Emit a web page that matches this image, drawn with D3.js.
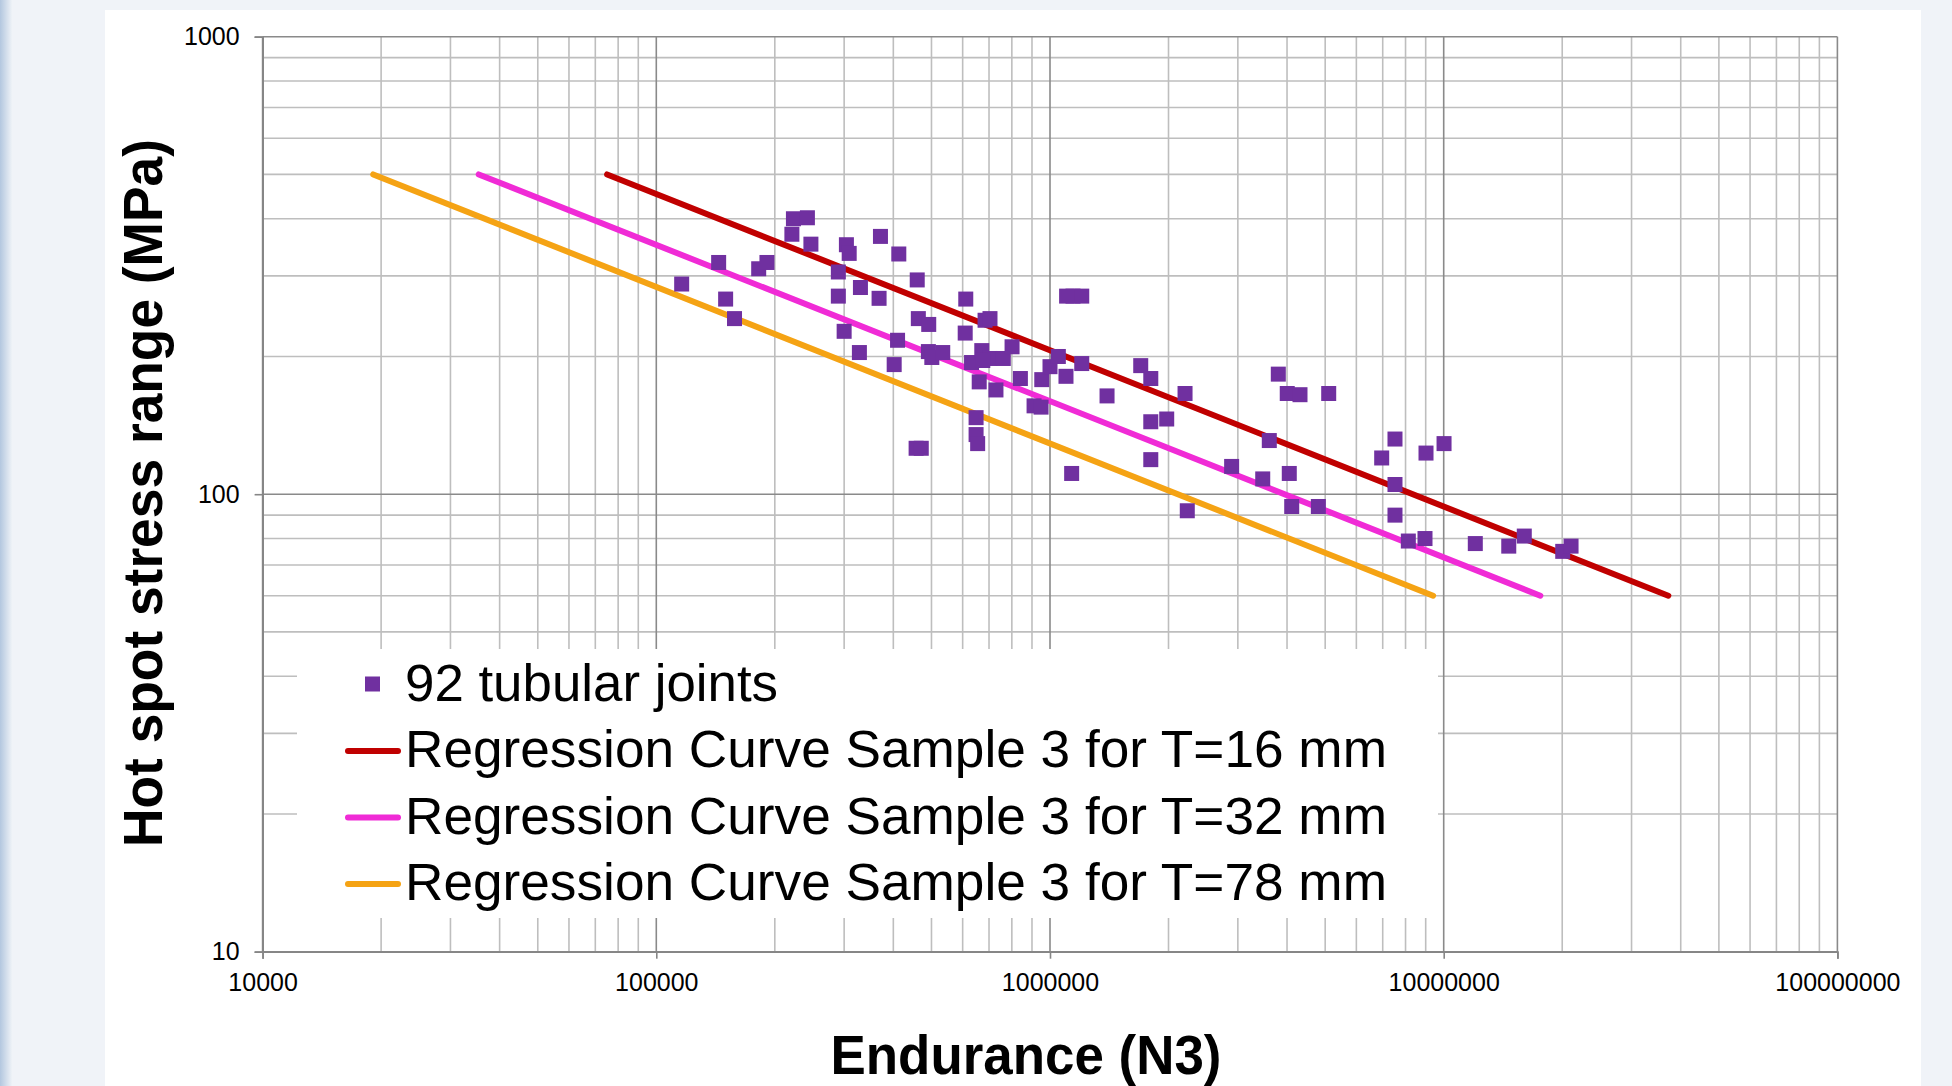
<!DOCTYPE html>
<html>
<head>
<meta charset="utf-8">
<script src="https://cdn.jsdelivr.net/npm/d3@7"></script>
<style>
  html, body { margin: 0; padding: 0; background: #f1f4f8; overflow: hidden; }
  svg { display: block; font-family: "Liberation Sans", Arial, sans-serif; }
</style>
</head>
<body>
<svg id="chart" width="1952" height="1086"></svg>
<script>
// test data: endurance N3 (cycles) and hot spot stress range (MPa)
const jointsN = [116000, 144000, 150000, 158000, 182000, 191000, 223000, 242000, 221000, 247000,
  304000, 309000, 290000, 290000, 330000, 368000, 371000, 413000, 460000, 300000,
  328000, 410000, 402000, 463000, 492000, 611000, 609000, 684000, 704000, 491000,
  501000, 534000, 632000, 671000, 704000, 761000, 801000, 661000, 729000, 841000,
  953000, 1000000, 1050000, 1098000, 1204000, 1102000, 1144000, 1204000, 1700000, 1803000,
  1396000, 2203000, 911000, 949000, 649000, 649000, 655000, 457000, 471000, 1803000,
  1979000, 1803000, 1135000, 2893000, 3470000, 4053000, 3606000, 4111000, 4804000, 2232000,
  3801000, 4005000, 4315000, 5104000, 7521000, 6958000, 9017000, 10020000, 7521000, 7521000,
  8131000, 8964000, 12030000, 14630000, 16020000, 20060000, 21060000, 675000]
const jointsS = [288, 321, 267, 242, 311, 321, 400, 402, 370, 352,
  351, 336, 306, 271, 283, 268, 366, 335, 294, 227,
  204, 217, 192, 242, 235, 267, 225, 240, 242, 205,
  199, 204, 194, 206, 198, 198, 210, 176, 169, 179,
  178, 190, 200, 181, 193, 271, 271, 271, 191, 179,
  164, 166, 156, 155, 147, 135, 129, 126, 126, 144,
  146, 119, 111, 115, 108, 111, 131, 94, 94, 92,
  183, 166, 165, 166, 132, 120, 123, 129, 105, 90,
  79, 80, 78, 77, 81, 75, 77, 196]

// regression curves: endpoints of each line
const curveNames = ["Regression Curve Sample 3 for T=16 mm",
  "Regression Curve Sample 3 for T=32 mm",
  "Regression Curve Sample 3 for T=78 mm"]
const curveStartN = [75000, 35400, 19100]
const curveEndN = [37200000, 17600000, 9400000]
const curveStartS = [500, 500, 500]
const curveEndS = [60, 60, 60]

const xTicks = [10000, 100000, 1000000, 10000000, 100000000]
const yTicks = [10, 100, 1000]
const pointsLabel = "92 tubular joints"

const curveColors = ["#c00000", "#f02bd6", "#f5a314"]
const markerColor = "#7030a0"

const svg = d3.select("#chart")

// slide background
const defs = svg.append("defs")
const edge = defs.append("linearGradient").attr("id", "edge")
edge.append("stop").attr("offset", "0%").attr("stop-color", "#b3c7df")
edge.append("stop").attr("offset", "100%").attr("stop-color", "#eef2f7")
svg.append("rect").attr("width", 1952).attr("height", 1086).attr("fill", "#f0f3f8")
svg.append("rect").attr("width", 12).attr("height", 1086).attr("fill", "url(#edge)")
svg.append("rect").attr("x", 105).attr("y", 10).attr("width", 1816).attr("height", 1076).attr("fill", "#ffffff")

const x = d3.scaleLog().domain([1e4, 1e8]).range([262.6, 1837.4])
const y = d3.scaleLog().domain([10, 1000]).range([951.7, 36.7])

function minorValues(lo, hi){
    const vals = []
    for(let d = lo; d < hi; d *= 10){
        for(let k = 2; k < 10; k++) vals.push(k*d)
    }
    return vals
}

const grid = svg.append("g").attr("class", "grid")
grid.selectAll(".vminor").data(minorValues(1e4, 1e8)).join("line")
    .attr("x1", d => x(d)).attr("x2", d => x(d))
    .attr("y1", y(1000)).attr("y2", y(10))
    .attr("stroke", "#bebebe").attr("stroke-width", 1.6)
grid.selectAll(".hminor").data(minorValues(10, 1000)).join("line")
    .attr("x1", x(1e4)).attr("x2", x(1e8))
    .attr("y1", d => y(d)).attr("y2", d => y(d))
    .attr("stroke", "#bebebe").attr("stroke-width", 1.6)
grid.selectAll(".vmajor").data(xTicks).join("line")
    .attr("x1", d => x(d)).attr("x2", d => x(d))
    .attr("y1", y(1000)).attr("y2", y(10))
    .attr("stroke", "#8a8a8a").attr("stroke-width", 1.6)
grid.selectAll(".hmajor").data(yTicks).join("line")
    .attr("x1", x(1e4)).attr("x2", x(1e8))
    .attr("y1", d => y(d)).attr("y2", d => y(d))
    .attr("stroke", "#8a8a8a").attr("stroke-width", 1.6)

// axes
const xAxis = svg.append("g")
    .attr("transform", `translate(0,${y(10)})`)
    .call(d3.axisBottom(x).tickValues(xTicks).tickFormat(d3.format("d")).tickSize(7).tickPadding(15))
const yAxis = svg.append("g")
    .attr("transform", `translate(${x(1e4)},0)`)
    .call(d3.axisLeft(y).tickValues(yTicks).tickFormat(d3.format("d")).tickSize(8).tickPadding(15))
for(const ax of [xAxis, yAxis]){
    ax.select(".domain").attr("stroke", "#868686").attr("stroke-width", 1.8)
    ax.selectAll(".tick line").attr("stroke", "#868686").attr("stroke-width", 1.6)
    ax.selectAll(".tick text").attr("fill", "#000").style("font-size", "25px")
        .style("font-family", "'Liberation Sans', Arial, sans-serif")
}

// legend box sits over the grid
svg.append("rect").attr("x", 297).attr("y", 649).attr("width", 1141).attr("height", 269).attr("fill", "#ffffff")

// regression lines
const curves = curveNames.map((name, i) => ({
    name: name,
    color: curveColors[i],
    pts: [[curveStartN[i], curveStartS[i]], [curveEndN[i], curveEndS[i]]]
}))
const line = d3.line().x(d => x(d[0])).y(d => y(d[1]))
svg.append("g").selectAll("path").data(curves).join("path")
    .attr("d", d => line(d.pts))
    .attr("fill", "none")
    .attr("stroke", d => d.color)
    .attr("stroke-width", 6)
    .attr("stroke-linecap", "round")

// joints
const size = 15
svg.append("g").selectAll("rect").data(d3.zip(jointsN, jointsS)).join("rect")
    .attr("x", d => x(d[0]) - size/2)
    .attr("y", d => y(d[1]) - size/2)
    .attr("width", size).attr("height", size)
    .attr("fill", markerColor)

// legend
const legend = svg.append("g").attr("class", "legend")
legend.append("rect").attr("x", 365).attr("y", 676.5).attr("width", 15).attr("height", 15).attr("fill", markerColor)
legend.append("text").attr("x", 405).attr("y", 700.5)
    .attr("textLength", 373).attr("lengthAdjust", "spacingAndGlyphs")
    .style("font-size", "51px").text(pointsLabel)
curves.forEach((c, i) => {
    const base = 767 + i*66.5
    legend.append("line")
        .attr("x1", 348).attr("x2", 398)
        .attr("y1", base - 16).attr("y2", base - 16)
        .attr("stroke", c.color).attr("stroke-width", 6).attr("stroke-linecap", "round")
    legend.append("text").attr("x", 405).attr("y", base)
        .attr("textLength", 982).attr("lengthAdjust", "spacingAndGlyphs")
        .style("font-size", "51px").text(c.name)
})

// axis titles
svg.append("text")
    .attr("x", 1026).attr("y", 1074)
    .attr("text-anchor", "middle")
    .attr("textLength", 391).attr("lengthAdjust", "spacingAndGlyphs")
    .style("font-size", "56px").style("font-weight", "bold")
    .text("Endurance (N3)")
svg.append("text")
    .attr("transform", "translate(162,493) rotate(-90)")
    .attr("text-anchor", "middle")
    .attr("textLength", 708).attr("lengthAdjust", "spacingAndGlyphs")
    .style("font-size", "56px").style("font-weight", "bold")
    .text("Hot spot stress range (MPa)")
</script>
</body>
</html>
